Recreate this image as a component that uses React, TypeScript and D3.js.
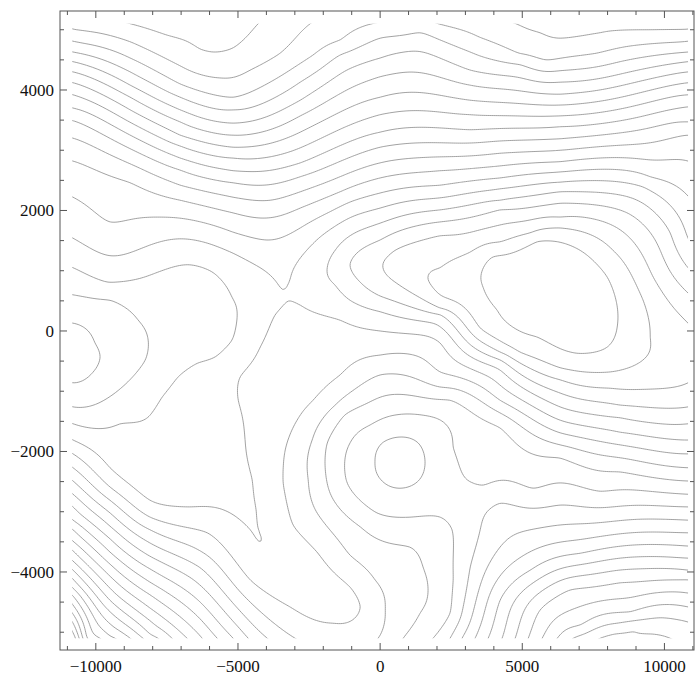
import React, { useEffect, useRef } from "react";
import * as d3 from "d3";

const W = 696;
const H = 677;
const frame = { left: 60, right: 694, top: 11, bottom: 650 };
const xFrame = [-11260, 11040];
const yFrame = [-5295, 5311];
const xData = [-10830, 10830];
const yData = [-5100, 5100];

const xMajorTicks = [-10000, -5000, 0, 5000, 10000];
const xMinorTicks = d3.range(-11000, 11001, 1000);
const yMajorTicks = [-4000, -2000, 0, 2000, 4000];
const yMinorTicks = d3.range(-5000, 5001, 500);

// points read along each contour line of the picture: [x, y] in data units
const levelM18 = [[-10800, -5010]];
const levelM17 = [[-10800, -4850]];
const levelM16 = [[-10800, -4700]];
const levelM15 = [[-10800, -4550], [-10300, -5100], [7740, -5100], [8260, -5030], [8900, -4990], [9570, -5030], [10200, -5100]];
const levelM14 = [[-10800, -4400], [-9850, -5100], [6790, -5100], [8340, -4850], [9850, -4760], [10830, -4830]];
const levelM13 = [
  [-8790, 5100], [-7490, 4910], [-6330, 4680], [-5870, 4630], [-5170, 4700], [-4570, 4950], [-4290, 5100],
  [-10800, -4270], [-9500, -5060], [-9320, -5100], [6230, -5100], [7030, -4880], [8790, -4660], [10830, -4580],
];
const levelM12 = [
  [-10800, 5010], [-8790, 4800], [-7030, 4400], [-5630, 4200], [-4570, 4330], [-3520, 4610], [-2810, 4950], [-2460, 5100],
  [4780, 5100], [5630, 4950], [6300, 4860], [7740, 4950], [9500, 5000], [10830, 5010],
  [-10800, -4120], [-9500, -4860], [-8790, -5100], [5700, -5100], [10830, -4350],
];
const levelM11 = [
  [-10800, 4810], [-8790, 4530], [-7030, 4100], [-5170, 3880], [-3870, 4130], [-2360, 4580], [-1410, 4830], [-280, 5100],
  [2040, 5100], [3480, 4880], [4890, 4610], [5840, 4500], [7600, 4610], [9140, 4750], [10830, 4810],
  [-10800, -3970], [-9500, -4660], [-8340, -5100], [5210, -5100], [5630, -4630], [6680, -4300], [8440, -4180], [10830, -4130],
];
const levelM10 = [
  [-10800, 4630], [-8790, 4300], [-7030, 3880], [-5170, 3670], [-2810, 4130], [-1410, 4580], [0, 4860], [1410, 4950],
  [3170, 4630], [4920, 4420], [6330, 4320], [8440, 4470], [10830, 4630],
  [-10800, -3820], [-9500, -4470], [-8090, -5030], [-7810, -5100], [4750, -5100], [10830, -3970],
];
const levelM9 = [
  [-10800, 4470], [-8790, 4080], [-7030, 3670], [-5170, 3450], [-2810, 3830], [0, 4530], [3170, 4330], [6330, 4130], [10830, 4470],
  [-10800, -3650], [-9500, -4270], [-8090, -4810], [-7320, -5100], [4290, -5100], [10830, -3770],
];
const levelM8 = [
  [-10800, 4300], [-8790, 3880], [-7030, 3470], [-5170, 3250], [-2810, 3570], [0, 4220], [3170, 4080], [6330, 3930], [10830, 4300],
  [-10800, -3490], [-9500, -4070], [-8090, -4600], [-6790, -5100], [3800, -5100], [4220, -4470], [5280, -3970], [7030, -3690],
  [10830, -3570],
];
const levelM7 = [
  [-10800, 4120], [-8790, 3670], [-7030, 3250], [-5170, 3050], [-2810, 3300], [0, 3880], [3170, 3830], [6330, 3750], [10830, 4120],
  [-10800, -3300], [-9500, -3870], [-8090, -4380], [-6330, -5060], [-6260, -5100], [3340, -5100], [10830, -3350],
];
const levelM6 = [
  [-10800, 3920], [-7030, 3070], [-5170, 2870], [-2810, 3040], [0, 3590], [3170, 3590], [6330, 3570], [10830, 3920],
  [-10800, -3140], [-9500, -3670], [-8090, -4170], [-6330, -4780], [-5730, -5100], [2880, -5100], [10830, -3140],
];
const levelM5 = [
  [-10800, 3700], [-7030, 2870], [-5170, 2660], [-2810, 2790], [0, 3300], [3170, 3340], [6330, 3390], [10830, 3720],
  [-180, -2170], [70, -1860], [700, -1760], [1340, -1860], [1580, -2170], [1340, -2490], [700, -2610], [70, -2490],
  [2460, -5100], [2920, -4580], [3170, -3920], [3520, -3300], [4220, -2860], [6330, -2890], [10830, -2920],
  [-10800, -2920], [-9500, -3450], [-8090, -3950], [-6330, -4500], [-5170, -5100],
];
const levelM4 = [
  [-10800, 3490], [-7030, 2670], [-5170, 2460], [-2810, 2560], [0, 3050], [3170, 3120], [6330, 3190], [10830, 3470],
  [-10800, -2710], [-9500, -3240], [-8090, -3740], [-6330, -4220], [-4640, -5100], [1860, -5100], [2460, -4680], [2570, -4130],
  [2530, -3300], [2110, -3090], [1060, -3090], [-110, -3020], [-1160, -2520], [-1060, -1860], [-350, -1560], [600, -1390],
  [1860, -1430], [2570, -1930], [3060, -2470], [3620, -2560], [5380, -2610], [7740, -2660], [10830, -2710],
];
const levelM3 = [
  [-10800, 3200], [-7030, 2420], [-5170, 2220], [-3870, 2170], [-2810, 2310], [0, 2790], [2110, 2890], [4220, 2950], [6330, 3000], [10830, 3250],
  [-10800, -2490], [-9500, -3020], [-8090, -3520], [-6330, -3930], [-3970, -5100], [810, -5100], [1410, -4680], [1650, -4130],
  [1510, -3920], [1060, -3590], [-700, -3250], [-1760, -2690], [-1860, -1860], [-1230, -1390], [-460, -1200], [0, -1100],
  [2460, -1150], [4220, -1610], [6330, -2110], [8440, -2340], [10830, -2490],
];
const levelM2 = [
  [-10800, 2820], [-8790, 2460], [-7030, 2170], [-5170, 1960], [-3870, 1880], [-2810, 2040], [-1410, 2310], [0, 2540],
  [2110, 2660], [4220, 2740], [6330, 2810], [9500, 2840], [10830, 2820],
  [-10800, -2270], [-9500, -2810], [-8090, -3300], [-6330, -3650], [-2990, -5100], [-70, -5100], [180, -4630], [-180, -4130],
  [-1060, -3720], [-2040, -3140], [-2530, -2470], [-2390, -1810], [-1580, -1230], [0, -730], [2110, -930], [4220, -1360],
  [6330, -1890], [10830, -2270],
];
const levelM1 = [
  [-10800, 2220], [-9500, 1810], [-7740, 1890], [-5170, 1640], [-3970, 1510], [-2810, 1710], [-1760, 1980], [-1060, 2140],
  [0, 2290], [2110, 2420], [4220, 2540], [6330, 2640], [9500, 2560], [10830, 2240],
  [-10800, -2040], [-9500, -2590], [-8090, -3090], [-6080, -3350], [-4570, -4130], [-3170, -4580], [-1650, -4850], [-880, -4760],
  [-700, -4580], [-1060, -4250], [-2220, -3670], [-3060, -3220], [-3410, -2520], [-3340, -1980], [-2920, -1480], [-2360, -1150],
  [-1410, -730], [0, -400], [2110, -680], [4220, -1150], [6330, -1690], [8440, -1890], [10830, -2040],
];
const level0 = [
  [-10800, 1540], [-9500, 1250], [-7030, 1530], [-5170, 1290], [-4220, 1050], [-3410, 680], [-3170, 850], [-2810, 1210],
  [-2110, 1560], [-1060, 1880], [0, 2040], [2110, 2210], [4220, 2360], [6330, 2470], [9250, 2390], [10830, 1540],
  [-3240, 500], [-3690, 270], [-4220, -270], [-4920, -760], [-4990, -1150], [-4750, -1810], [-4500, -2470], [-4360, -2970],
  [-4220, -3500], [-4570, -3300], [-5280, -3020], [-6680, -2920], [-8090, -2810], [-9500, -2270], [-10800, -1810],
  [-2810, 430], [-1410, 180], [0, 0], [2110, -200], [4220, -900], [6330, -1480], [8440, -1680], [10830, -1810],
];
const level1 = [
  [-10800, 1050], [-9570, 810], [-7910, 960], [-6750, 1100], [-5910, 980], [-5210, 560], [-5030, 230], [-5210, -150],
  [-5800, -430], [-6400, -530], [-7100, -760], [-7670, -1100], [-8160, -1430], [-9140, -1540], [-10800, -1540],
  [-1860, 1050], [-1580, 1340], [-1060, 1580], [0, 1790], [2110, 2010], [4220, 2170], [6330, 2310], [9040, 2170],
  [10200, 1630], [10830, 1050], [-1580, 760], [-1060, 510], [0, 320], [2110, 70], [4220, -650], [6330, -1260],
  [8440, -1440], [10830, -1540],
];
const level2 = [
  [-10800, 600], [-9500, 510], [-8510, 180], [-8160, -150], [-8260, -480], [-9070, -930], [-10800, -1260],
  [-1060, 1100], [-700, 1340], [0, 1510], [2110, 1810], [4220, 2010], [6330, 2120], [8690, 1960], [9850, 1340],
  [10830, 630], [-700, 810], [0, 580], [2110, 270], [4220, -480], [6330, -1030], [8440, -1230], [10830, -1260],
];
const level3 = [
  [-10800, 130], [-10030, -200], [-9850, -430], [-10130, -700], [-10800, -860],
  [110, 1130], [530, 1340], [2110, 1580], [4220, 1760], [6330, 1890], [8440, 1680], [9600, 900], [10830, 130],
  [530, 810], [1410, 550], [2110, 380], [4220, -350], [6330, -810], [8090, -950], [10830, -860],
];
const level4 = [
  [1690, 850], [2110, 1050], [3170, 1310], [4220, 1480], [5280, 1630], [6330, 1710], [8190, 1340], [9250, 510],
  [9500, -100], [2110, 600], [3520, 50], [4920, -350], [6330, -610], [8090, -680], [9250, -480],
];
const level5 = [
  [3620, 730], [3970, 1230], [5520, 1480], [7030, 1340], [7980, 900], [8340, 70], [7980, -270], [6930, -370],
  [5520, -100], [4110, 350],
];

// single readings between the lines: peaks, passes and edge values
const anchorX = [5980, 700, -10800, 10830, -3340, -3940, -2640, -2110, -1650, 3170, -6680, -6330, -5630, -5800,
  -10800, -9850, -6330, -1410, 880, 3410, 7740, 10830, -10800, 10830, 8970];
const anchorY = [550, -2170, -370, -370, 580, 550, 680, -4470, -5100, -2810, -1810, 180, -2310, -1310,
  5100, 5100, 5100, 5100, 5100, 5100, 5100, 5100, -5100, -5100, -5100];
const anchorLevel = [5.6, -5.5, 3.5, 3.5, 0.15, 0.5, 0.6, -0.6, -1.4, -4.5, 0.5, 1.5, 0.3, 0.5,
  -12.3, -12.6, -13.25, -11.5, -10.8, -11.5, -12.3, -12.3, -18.6, -14.6, -15.2];

const levelLines: [number, number[][]][] = [
  [-18, levelM18], [-17, levelM17], [-16, levelM16], [-15, levelM15], [-14, levelM14], [-13, levelM13],
  [-12, levelM12], [-11, levelM11], [-10, levelM10], [-9, levelM9], [-8, levelM8], [-7, levelM7],
  [-6, levelM6], [-5, levelM5], [-4, levelM4], [-3, levelM3], [-2, levelM2], [-1, levelM1],
  [0, level0], [1, level1], [2, level2], [3, level3], [4, level4], [5, level5],
];

const contourLevels = d3.range(-22, 7, 1);
const smoothing = 5e-4;

// thin-plate surface through the read points (coordinates measured in hundreds of pixels)
function buildSurface(xs: Float64Array, ys: Float64Array, zs: Float64Array) {
  const n = xs.length;
  const m = n + 3;
  const A = new Float64Array(m * m);
  const b = new Float64Array(m);
  const phi = (r2: number) => (r2 > 0 ? 0.5 * r2 * Math.log(r2) : 0);
  for (let i = 0; i < n; i++) {
    for (let j = 0; j < n; j++) {
      const dx = xs[i] - xs[j];
      const dy = ys[i] - ys[j];
      A[i * m + j] = phi(dx * dx + dy * dy);
    }
    A[i * m + i] += smoothing;
    A[i * m + n] = 1;
    A[i * m + n + 1] = xs[i];
    A[i * m + n + 2] = ys[i];
    A[n * m + i] = 1;
    A[(n + 1) * m + i] = xs[i];
    A[(n + 2) * m + i] = ys[i];
    b[i] = zs[i];
  }
  for (let k = 0; k < m; k++) {
    let p = k;
    let best = Math.abs(A[k * m + k]);
    for (let r = k + 1; r < m; r++) {
      const v = Math.abs(A[r * m + k]);
      if (v > best) {
        best = v;
        p = r;
      }
    }
    if (p !== k) {
      for (let c = 0; c < m; c++) {
        const t = A[k * m + c];
        A[k * m + c] = A[p * m + c];
        A[p * m + c] = t;
      }
      const t = b[k];
      b[k] = b[p];
      b[p] = t;
    }
    const piv = A[k * m + k];
    for (let r = k + 1; r < m; r++) {
      const f = A[r * m + k] / piv;
      if (f !== 0) {
        for (let c = k; c < m; c++) A[r * m + c] -= f * A[k * m + c];
        b[r] -= f * b[k];
      }
    }
  }
  const w = new Float64Array(m);
  for (let k = m - 1; k >= 0; k--) {
    let s = b[k];
    for (let c = k + 1; c < m; c++) s -= A[k * m + c] * w[c];
    w[k] = s / A[k * m + k];
  }
  return (X: number, Y: number) => {
    let f = w[n] + w[n + 1] * X + w[n + 2] * Y;
    for (let i = 0; i < n; i++) {
      const dx = X - xs[i];
      const dy = Y - ys[i];
      f += w[i] * phi(dx * dx + dy * dy);
    }
    return f;
  };
}

const fmt = (d: number) => (d < 0 ? "\u2212" + Math.abs(d) : String(d));
const labelFont = "'Liberation Serif', 'Times New Roman', serif";

const ContourChart: React.FC = () => {
  const gRef = useRef<SVGGElement>(null);

  const x = d3.scaleLinear().domain(xFrame).range([frame.left, frame.right]);
  const y = d3.scaleLinear().domain(yFrame).range([frame.bottom, frame.top]);

  useEffect(() => {
    const kx = (frame.right - frame.left) / (xFrame[1] - xFrame[0]) / 100;
    const ky = (frame.bottom - frame.top) / (yFrame[1] - yFrame[0]) / 100;

    const sx: number[] = [];
    const sy: number[] = [];
    const sz: number[] = [];
    levelLines.forEach(([z, pts]) =>
      pts.forEach(([px, py]) => {
        sx.push(px * kx);
        sy.push(py * ky);
        sz.push(z);
      })
    );
    anchorX.forEach((ax, i) => {
      sx.push(ax * kx);
      sy.push(anchorY[i] * ky);
      sz.push(anchorLevel[i]);
    });
    const surface = buildSurface(Float64Array.from(sx), Float64Array.from(sy), Float64Array.from(sz));

    const pad = 2;
    const nu = 310;
    const nv = 310;
    const du = (xData[1] - xData[0]) / nu;
    const dv = (yData[1] - yData[0]) / nv;
    const nx = nu + 1 + 2 * pad;
    const ny = nv + 1 + 2 * pad;
    const values: number[] = new Array(nx * ny);
    for (let j = 0; j < ny; j++) {
      const vy = yData[1] - (j - pad) * dv;
      for (let i = 0; i < nx; i++) {
        const ux = xData[0] + (i - pad) * du;
        values[j * nx + i] = surface(ux * kx, vy * ky);
      }
    }
    const contours = d3.contours().size([nx, ny]).thresholds(contourLevels)(values);

    const proj = d3.geoTransform({
      point(px: number, py: number) {
        const ux = xData[0] + (px - 0.5 - pad) * du;
        const vy = yData[1] - (py - 0.5 - pad) * dv;
        this.stream.point(x(ux), y(vy));
      },
    });
    const path = d3.geoPath(proj);

    const g = d3.select(gRef.current);
    g.selectAll("*").remove();
    g.selectAll("path")
      .data(contours)
      .join("path")
      .attr("d", (d) => path(d as any) || "")
      .attr("fill", "none")
      .attr("stroke", "#8a8a8a")
      .attr("stroke-width", 0.8);
  }, []);

  const clipX0 = x(xData[0]);
  const clipX1 = x(xData[1]);
  const clipY0 = y(yData[1]);
  const clipY1 = y(yData[0]);

  return (
    <svg width={W} height={H} style={{ position: "absolute", left: 0, top: 0 }}>
      <defs>
        <clipPath id="dataClip">
          <rect x={clipX0} y={clipY0} width={clipX1 - clipX0} height={clipY1 - clipY0} />
        </clipPath>
      </defs>
      <g ref={gRef} clipPath="url(#dataClip)" />
      <rect
        x={frame.left}
        y={frame.top}
        width={frame.right - frame.left}
        height={frame.bottom - frame.top}
        fill="none"
        stroke="#555"
        strokeWidth={1}
      />
      {xMinorTicks.map((t) => {
        const len = xMajorTicks.includes(t) ? 7 : 4;
        return (
          <g key={"x" + t}>
            <line x1={x(t)} x2={x(t)} y1={frame.bottom} y2={frame.bottom - len} stroke="#555" />
            <line x1={x(t)} x2={x(t)} y1={frame.top} y2={frame.top + len} stroke="#555" />
          </g>
        );
      })}
      {yMinorTicks.map((t) => {
        const len = yMajorTicks.includes(t) ? 7 : 4;
        return (
          <g key={"y" + t}>
            <line x1={frame.left} x2={frame.left + len} y1={y(t)} y2={y(t)} stroke="#555" />
            <line x1={frame.right} x2={frame.right - len} y1={y(t)} y2={y(t)} stroke="#555" />
          </g>
        );
      })}
      {xMajorTicks.map((t) => (
        <text key={"xl" + t} x={x(t)} y={672} textAnchor="middle" style={{ fontFamily: labelFont }} fontSize={17} fill="#111">
          {fmt(t)}
        </text>
      ))}
      {yMajorTicks.map((t) => (
        <text
          key={"yl" + t}
          x={54}
          y={y(t)}
          dy="0.35em"
          textAnchor="end"
          style={{ fontFamily: labelFont }}
          fontSize={17}
          fill="#111"
        >
          {fmt(t)}
        </text>
      ))}
    </svg>
  );
};

export default function App() {
  return <ContourChart />;
}
